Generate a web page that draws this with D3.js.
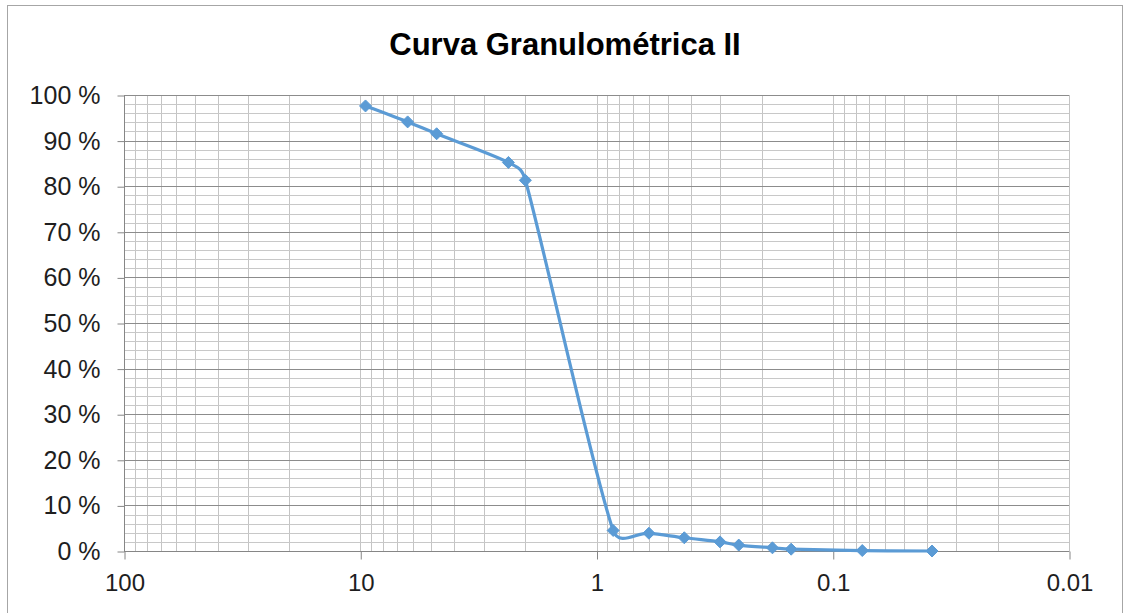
<!DOCTYPE html>
<html>
<head>
<meta charset="utf-8">
<script src="https://cdn.jsdelivr.net/npm/d3@7"></script>
<style>
  html, body { margin: 0; padding: 0; background: #fff; }
  svg { display: block; }
  text { font-family: "Liberation Sans", Arial, sans-serif; }
</style>
</head>
<body>
<svg id="chart" width="1124" height="613"></svg>
<script>
// ---- data ----
const title = "Curva Granulométrica II";
const sizes = [9.5, 6.3, 4.75, 2.36, 2.0, 0.85, 0.6, 0.425, 0.3, 0.25, 0.18, 0.15, 0.075, 0.038];
const passing = [97.6, 94.1, 91.5, 85.2, 81.3, 4.5, 3.9, 2.9, 2.0, 1.3, 0.7, 0.4, 0.1, 0.0];
const xTicks = [100, 10, 1, 0.1, 0.01];
const xTickLabels = ["100", "10", "1", "0.1", "0.01"];
const yTicks = [0, 10, 20, 30, 40, 50, 60, 70, 80, 90, 100];
const yTickLabels = yTicks.map(v => v + " %");

// ---- layout ----
const plot = { left: 124, right: 1069, top: 95, bottom: 551 };
const color = "#5B9BD5";

const svg = d3.select("#chart");

// outer frame
svg.append("rect").attr("x", 7.5).attr("y", 5.5).attr("width", 1115).attr("height", 620)
  .attr("fill", "#fff").attr("stroke", "#a6a6a6").attr("stroke-width", 1);

const x = d3.scaleLog().domain([100, 0.01]).range([plot.left, plot.right]);
const y = d3.scaleLinear().domain([0, 100]).range([plot.bottom, plot.top]);

const g = svg.append("g");

// vertical gridlines (1..9 per decade)
const vLines = [];
for (let e = -2; e < 2; e++) {
  for (let m = 1; m <= 9; m++) vLines.push(m * Math.pow(10, e));
}
vLines.push(100);
g.append("g").selectAll("line").data(vLines).join("line")
  .attr("x1", d => Math.round(x(d)) + 0.5).attr("x2", d => Math.round(x(d)) + 0.5)
  .attr("y1", plot.top).attr("y2", plot.bottom)
  .attr("stroke", "#c4c4c4").attr("stroke-width", 1);

// minor horizontal gridlines every 2%
const hMinor = d3.range(0, 101, 2).filter(v => v % 10 !== 0);
g.append("g").selectAll("line").data(hMinor).join("line")
  .attr("x1", plot.left).attr("x2", plot.right)
  .attr("y1", d => Math.round(y(d)) + 0.5).attr("y2", d => Math.round(y(d)) + 0.5)
  .attr("stroke", "#c8c8c8").attr("stroke-width", 1);

// major horizontal gridlines
g.append("g").selectAll("line").data(yTicks).join("line")
  .attr("x1", plot.left).attr("x2", plot.right)
  .attr("y1", d => Math.round(y(d)) + 0.5).attr("y2", d => Math.round(y(d)) + 0.5)
  .attr("stroke", "#8c8c8c").attr("stroke-width", 1);

// axes
const xAxis = d3.axisBottom(x).tickValues(xTicks)
  .tickFormat((d, i) => xTickLabels[i]).tickSize(8).tickPadding(14);
const gx = svg.append("g").attr("transform", `translate(0.5,${plot.bottom + 0.5})`).call(xAxis);
gx.select(".domain").attr("stroke", "#868686").attr("d", `M${plot.left},0H${plot.right}`);
gx.selectAll(".tick line").attr("stroke", "#868686");
gx.selectAll(".tick text").attr("font-size", 24).attr("fill", "#1e1e1e")
  .attr("font-family", '"Liberation Sans", Arial, sans-serif');

const yAxis = d3.axisLeft(y).tickValues(yTicks)
  .tickFormat((d, i) => yTickLabels[i]).tickSize(7).tickPadding(17);
const gy = svg.append("g").attr("transform", `translate(${plot.left + 0.5},0.5)`).call(yAxis);
gy.select(".domain").attr("stroke", "#868686").attr("d", `M0,${plot.top}V${plot.bottom}`);
gy.selectAll(".tick line").attr("stroke", "#868686");
gy.selectAll(".tick text").attr("font-size", 25).attr("fill", "#1e1e1e")
  .attr("font-family", '"Liberation Sans", Arial, sans-serif');

// data line: Excel-like smoothed bezier (1/6 tangents, clamped to half the segment)
const pts = sizes.map((s, i) => [x(s), y(passing[i])]);
function smoothPath(p) {
  const path = d3.path();
  const n = p.length;
  const tan = p.map((pt, i) => {
    const a = p[Math.max(0, i - 1)], b = p[Math.min(n - 1, i + 1)];
    return [(b[0] - a[0]) / 6, (b[1] - a[1]) / 6];
  });
  const clamp = (t, len) => {
    const l = Math.hypot(t[0], t[1]);
    const m = 0.5 * len;
    return l > m && l > 0 ? [t[0] * m / l, t[1] * m / l] : t;
  };
  path.moveTo(p[0][0], p[0][1]);
  for (let i = 0; i < n - 1; i++) {
    const a = p[i], b = p[i + 1];
    const len = Math.hypot(b[0] - a[0], b[1] - a[1]);
    const t0 = clamp(tan[i], len), t1 = clamp(tan[i + 1], len);
    path.bezierCurveTo(a[0] + t0[0], a[1] + t0[1], b[0] - t1[0], b[1] - t1[1], b[0], b[1]);
  }
  return path.toString();
}
svg.append("path").attr("d", smoothPath(pts)).attr("fill", "none")
  .attr("stroke", color).attr("stroke-width", 3.2).attr("stroke-linejoin", "round");

// diamond markers
const r = 6;
svg.append("g").selectAll("path").data(pts).join("path")
  .attr("d", d => `M${d[0]},${d[1] - r}L${d[0] + r},${d[1]}L${d[0]},${d[1] + r}L${d[0] - r},${d[1]}Z`)
  .attr("fill", color).attr("stroke", color).attr("stroke-width", 1);

// title
svg.append("text").attr("x", 565).attr("y", 55).attr("text-anchor", "middle")
  .attr("font-size", 31).attr("font-weight", "bold").attr("fill", "#000")
  .text(title);
</script>
</body>
</html>
